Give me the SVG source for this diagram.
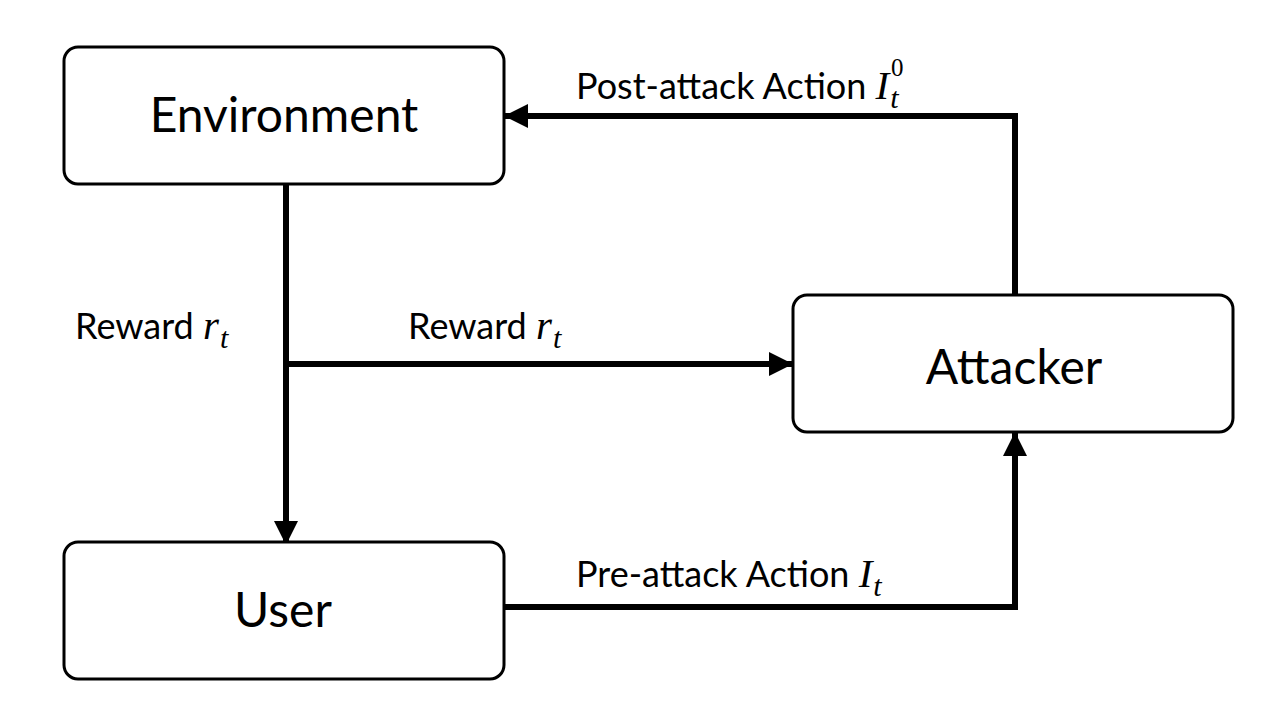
<svg xmlns="http://www.w3.org/2000/svg" width="1280" height="720" viewBox="0 0 1280 720">
<style>
.box{fill:#fff;stroke:#000;stroke-width:3}
.lbl{font-family:Lato,"Open Sans",sans-serif;fill:#000}
.node{font-size:48px}
.edge{font-size:36px}
.m{font-family:"Liberation Serif",serif;font-style:italic;fill:#000;font-size:41px}
.s{font-family:"Liberation Serif",serif;font-style:italic;fill:#000;font-size:30px}
.sup{font-family:"Liberation Serif",serif;fill:#000;font-size:25px}
.c{fill:none;stroke:#000;stroke-width:6}
</style>
<defs>
<marker id="ah" viewBox="0 0 10 10" refX="10" refY="5" markerWidth="4" markerHeight="4" markerUnits="strokeWidth" orient="auto">
<path d="M0,0 L10,5 L0,10 z" fill="#000"/>
</marker>
</defs>
<rect width="1280" height="720" fill="#fff"/>
<g id="connectors">
<path class="c" d="M286,184 V545" marker-end="url(#ah)"/>
<path class="c" d="M286,364 H793" marker-end="url(#ah)"/>
<path class="c" d="M1015,295 V116 H504" marker-end="url(#ah)"/>
<path class="c" d="M504,607 H1015 V432" marker-end="url(#ah)"/>
</g>
<g id="labels">
<text class="lbl edge" x="576" y="99">Post-attack Action <tspan class="m">I</tspan><tspan class="s" dx="1" dy="9">t</tspan></text>
<text class="sup" x="891" y="76">0</text>
<text class="lbl edge" x="75" y="339">Reward <tspan class="m">r</tspan><tspan class="s" dx="1" dy="9">t</tspan></text>
<text class="lbl edge" x="408" y="339">Reward <tspan class="m">r</tspan><tspan class="s" dx="1" dy="9">t</tspan></text>
<text class="lbl edge" x="576" y="587">Pre-attack Action <tspan class="m">I</tspan><tspan class="s" dx="1" dy="9">t</tspan></text>
</g>
<g id="environment">
<rect class="box" x="64" y="47" width="440" height="137" rx="14"/>
<text class="lbl node" x="284" y="132" text-anchor="middle">Environment</text>
</g>
<g id="attacker">
<rect class="box" x="793" y="295" width="440" height="137" rx="14"/>
<text class="lbl node" x="1014" y="384" text-anchor="middle">Attacker</text>
</g>
<g id="user">
<rect class="box" x="64" y="542" width="440" height="137" rx="14"/>
<text class="lbl node" x="283" y="627" text-anchor="middle">User</text>
</g>
</svg>
